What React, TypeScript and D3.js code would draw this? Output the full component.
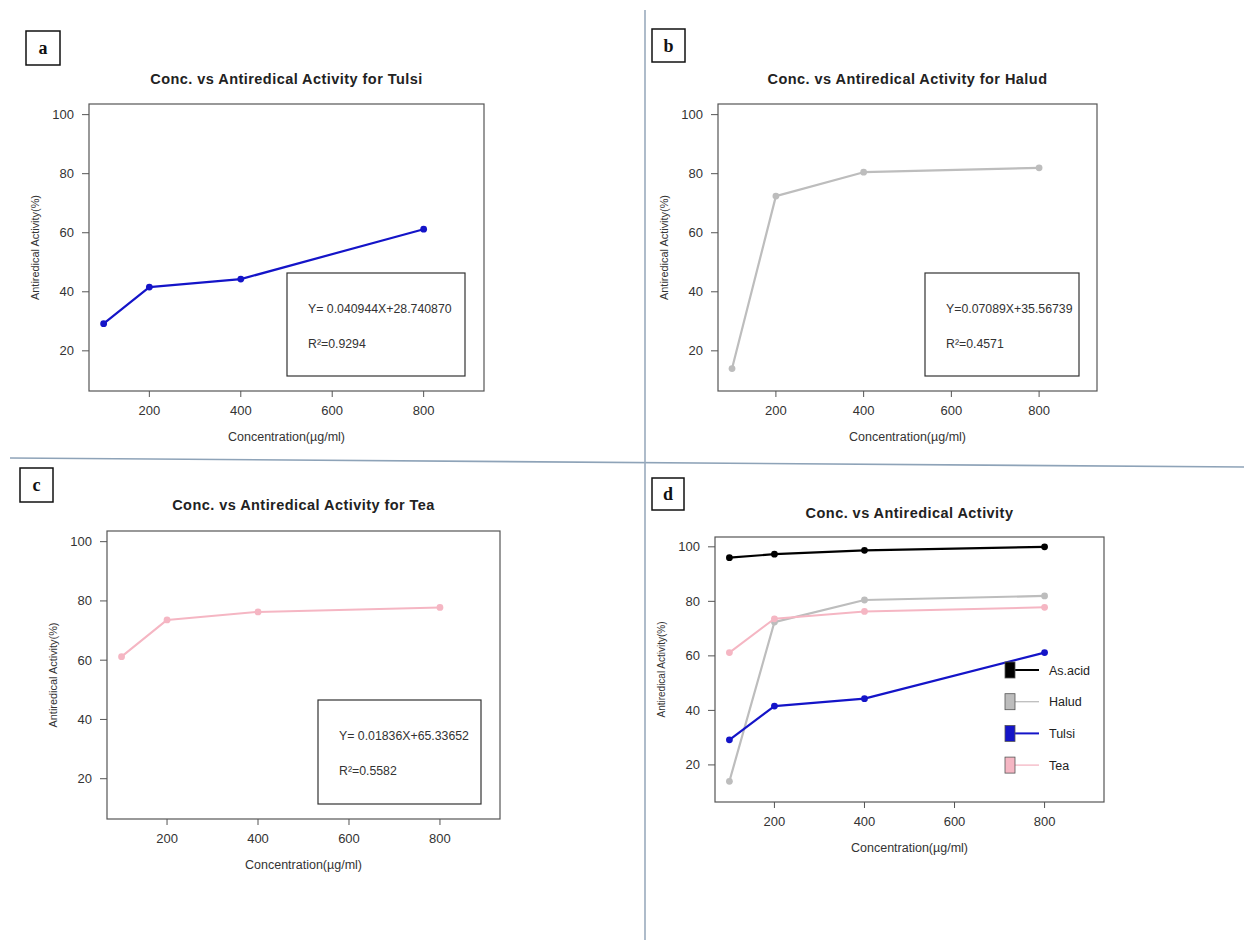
import React from 'react';
import * as d3 from 'd3';

const concentrations = [100, 200, 400, 800];
const tulsi = [29.2, 41.6, 44.3, 61.2];
const halud = [14.0, 72.4, 80.5, 82.0];
const tea = [61.2, 73.6, 76.3, 77.8];
const asAcid = [96.0, 97.3, 98.7, 100.0];

const xTicks = [200, 400, 600, 800];
const yTicks = [20, 40, 60, 80, 100];

const XLIM = [100, 900];
const YLIM = [10, 100];

const font = 'Liberation Sans, Arial, sans-serif';

type Series = { name: string; values: number[]; color: string; width: number };

const seriesTulsi: Series = { name: 'Tulsi', values: tulsi, color: '#1414c8', width: 2.2 };
const seriesHalud: Series = { name: 'Halud', values: halud, color: '#bdbdbd', width: 2.2 };
const seriesTea: Series = { name: 'Tea', values: tea, color: '#f5b6c3', width: 2 };
const seriesAcid: Series = { name: 'As.acid', values: asAcid, color: '#000000', width: 2.2 };

// R-style 4% axis expansion
const expand = (lim: number[]) => {
  const d = (lim[1] - lim[0]) * 0.04;
  return [lim[0] - d, lim[1] + d];
};

type Frame = { x0: number; x1: number; y0: number; y1: number };

function Panel({
  frame, title, titleY, letter, letterBox, series, eqBox, eq, legend, yTitleLen = 105,
}: {
  frame: Frame; title: string; titleY: number; letter: string;
  letterBox: { x: number; y: number; w: number; h: number };
  series: Series[];
  eqBox?: { x: number; y: number; w: number; h: number };
  eq?: string[];
  legend?: { x: number; y: number; dy: number };
  yTitleLen?: number;
}) {
  const x = d3.scaleLinear().domain(expand(XLIM)).range([frame.x0, frame.x1]);
  const y = d3.scaleLinear().domain(expand(YLIM)).range([frame.y1, frame.y0]);
  const line = d3.line<number>()
    .x((_, i) => x(concentrations[i]))
    .y(d => y(d));
  const cx = (frame.x0 + frame.x1) / 2;
  const cy = (frame.y0 + frame.y1) / 2;
  return (
    <g>
      <rect x={letterBox.x} y={letterBox.y} width={letterBox.w} height={letterBox.h}
        fill="white" stroke="#111" strokeWidth={1.5} />
      <text x={letterBox.x + letterBox.w / 2} y={letterBox.y + letterBox.h / 2 + 6}
        textAnchor="middle" fontFamily="Liberation Serif, Times New Roman, serif"
        fontWeight="bold" fontSize={18} fill="#111">{letter}</text>
      <text x={cx} y={titleY + 5} textAnchor="middle" fontFamily={font}
        fontWeight="bold" fontSize={14.5} letterSpacing={0.45} fill="#222">{title}</text>
      <rect x={frame.x0} y={frame.y0} width={frame.x1 - frame.x0} height={frame.y1 - frame.y0}
        fill="none" stroke="#555" strokeWidth={1.2} />
      {yTicks.map(t => (
        <g key={'y' + t}>
          <line x1={frame.x0 - 7} x2={frame.x0} y1={y(t)} y2={y(t)} stroke="#555" />
          <text x={frame.x0 - 15} y={y(t) + 4.5} textAnchor="end" fontFamily={font}
            fontSize={13} fill="#333">{t}</text>
        </g>
      ))}
      {xTicks.map(t => (
        <g key={'x' + t}>
          <line x1={x(t)} x2={x(t)} y1={frame.y1} y2={frame.y1 + 6} stroke="#555" />
          <text x={x(t)} y={frame.y1 + 24} textAnchor="middle" fontFamily={font}
            fontSize={13} fill="#333">{t}</text>
        </g>
      ))}
      <text x={cx} y={frame.y1 + 50} textAnchor="middle" fontFamily={font}
        fontSize={12.5} fill="#333">Concentration(µg/ml)</text>
      <text transform={`translate(${frame.x0 - 50},${cy}) rotate(-90)`} textAnchor="middle"
        fontFamily={font} fontSize={11.5} fill="#333" textLength={yTitleLen}
        lengthAdjust="spacingAndGlyphs">Antiredical Activity(%)</text>
      {series.map(s => (
        <g key={s.name}>
          <path d={line(s.values) || ''} fill="none" stroke={s.color} strokeWidth={s.width}
            strokeLinejoin="round" />
          {s.values.map((v, i) => (
            <circle key={i} cx={x(concentrations[i])} cy={y(v)} r={3.4} fill={s.color} />
          ))}
        </g>
      ))}
      {eqBox && eq && (
        <g>
          <rect x={eqBox.x} y={eqBox.y} width={eqBox.w} height={eqBox.h} fill="white"
            stroke="#333" strokeWidth={1.2} />
          {eq.map((t, i) => (
            <text key={i} x={eqBox.x + 21} y={eqBox.y + 40 + i * 35} fontFamily={font}
              fontSize={12.3} fill="#333">{t}</text>
          ))}
        </g>
      )}
      {legend && series.map((s, i) => (
        <g key={'lg' + s.name}>
          <line x1={legend.x + 10} x2={legend.x + 34} y1={legend.y + i * legend.dy}
            y2={legend.y + i * legend.dy} stroke={s.color}
            strokeWidth={s.name === 'Halud' || s.name === 'Tea' ? 1.3 : 2} />
          <rect x={legend.x} y={legend.y + i * legend.dy - 8} width={10} height={16}
            fill={s.color} stroke="#555" strokeWidth={0.8} />
          <text x={legend.x + 44} y={legend.y + i * legend.dy + 4.5} fontFamily={font}
            fontSize={12.5} fill="#222">{s.name}</text>
        </g>
      ))}
    </g>
  );
}

export default function App() {
  return (
    <svg width={1244} height={940} style={{ position: 'absolute', left: 0, top: 0, background: 'white' }}>
      <rect width={1244} height={940} fill="white" />
      <line x1={10} y1={458} x2={1244} y2={467} stroke="#8ea3b8" strokeWidth={1.6} />
      <line x1={645} y1={10} x2={645} y2={940} stroke="#9aabbd" strokeWidth={1.6} />
      <Panel
        frame={{ x0: 89, x1: 484, y0: 104, y1: 391 }}
        title="Conc. vs Antiredical Activity for Tulsi" titleY={79}
        letter="a" letterBox={{ x: 26, y: 31, w: 34, h: 34 }}
        series={[seriesTulsi]}
        eqBox={{ x: 287, y: 273, w: 178, h: 103 }}
        eq={['Y= 0.040944X+28.740870', 'R²=0.9294']}
      />
      <Panel
        frame={{ x0: 718, x1: 1097, y0: 104, y1: 391 }}
        title="Conc. vs Antiredical Activity for Halud" titleY={79}
        letter="b" letterBox={{ x: 652, y: 29, w: 33, h: 33 }}
        series={[seriesHalud]}
        eqBox={{ x: 925, y: 273, w: 154, h: 103 }}
        eq={['Y=0.07089X+35.56739', 'R²=0.4571']}
      />
      <Panel
        frame={{ x0: 107, x1: 500, y0: 531, y1: 819 }}
        title="Conc. vs Antiredical Activity for Tea" titleY={505}
        letter="c" letterBox={{ x: 20, y: 468, w: 33, h: 34 }}
        series={[seriesTea]}
        eqBox={{ x: 318, y: 700, w: 163, h: 104 }}
        eq={['Y= 0.01836X+65.33652', 'R²=0.5582']}
      />
      <Panel
        frame={{ x0: 715, x1: 1104, y0: 537, y1: 802 }}
        title="Conc. vs Antiredical Activity" titleY={513}
        letter="d" letterBox={{ x: 652, y: 478, w: 32, h: 32 }}
        series={[seriesAcid, seriesHalud, seriesTulsi, seriesTea]}
        legend={{ x: 1005, y: 670, dy: 31.7 }}
        yTitleLen={96}
      />
    </svg>
  );
}
